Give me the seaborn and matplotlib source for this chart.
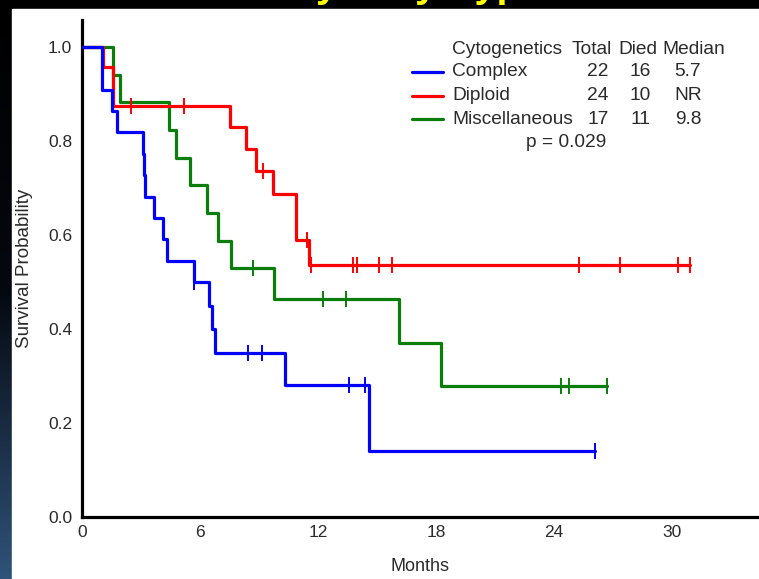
import numpy as np
import pandas as pd
import matplotlib
matplotlib.use("Agg")
import matplotlib.pyplot as plt
from matplotlib.lines import Line2D
from matplotlib.patches import Rectangle
import seaborn as sns

# ---- data: event times in months ----
groups = ["Complex", "Diploid", "Miscellaneous"]
colors = {"Complex": "#0000ff", "Diploid": "#ff0000", "Miscellaneous": "#0a7d0a"}

complex_deaths = [1.0, 1.0, 1.5, 1.8, 3.1, 3.15, 3.2, 3.66, 4.12, 4.32, 5.7,
                  6.46, 6.6, 6.76, 10.3, 14.6]
complex_censored = [5.7, 8.44, 9.15, 13.57, 14.4, 26.1]

diploid_deaths = [1.05, 1.56, 1.56, 7.5, 8.34, 8.86, 9.7, 10.88, 10.88, 11.55]
diploid_censored = [2.5, 5.2, 9.2, 11.45, 11.62, 13.76, 13.97, 13.97, 15.1,
                    15.75, 25.28, 27.35, 30.28, 30.94]

misc_deaths = [1.58, 1.93, 4.42, 4.8, 5.5, 6.34, 6.9, 7.6, 9.76, 16.1, 18.25]
misc_censored = [8.7, 12.23, 13.4, 24.35, 24.76, 26.67]

table_total = ["22", "24", "17"]
table_died = ["16", "10", "11"]
table_median = ["5.7", "NR", "9.8"]
p_value = "p = 0.029"

x_ticks = [0, 6, 12, 18, 24, 30]
y_ticks = [0.0, 0.2, 0.4, 0.6, 0.8, 1.0]

events = {
    "Complex": (complex_deaths, complex_censored),
    "Diploid": (diploid_deaths, diploid_censored),
    "Miscellaneous": (misc_deaths, misc_censored),
}


def kaplan_meier(deaths, censored):
    deaths = np.asarray(deaths, float)
    censored = np.asarray(censored, float)
    at_risk = len(deaths) + len(censored)
    s = 1.0
    t_pts, s_pts = [0.0], [1.0]
    cens_y = {}
    for t in np.unique(np.concatenate([deaths, censored])):
        d = int(np.sum(deaths == t))
        c = int(np.sum(censored == t))
        if d:
            s *= (at_risk - d) / at_risk
            t_pts.append(t)
            s_pts.append(s)
        if c:
            cens_y[t] = s
        at_risk -= d + c
    t_end = max(np.max(deaths), np.max(censored))
    t_pts.append(t_end)
    s_pts.append(s)
    cx = [t for t in censored]
    cy = [cens_y[t] for t in censored]
    return t_pts, s_pts, cx, cy


curve_rows, cens_rows = [], []
for g in groups:
    t, s, cx, cy = kaplan_meier(*events[g])
    curve_rows += [{"Group": g, "Months": a, "Survival": b} for a, b in zip(t, s)]
    cens_rows += [{"Group": g, "Months": a, "Survival": b} for a, b in zip(cx, cy)]
curves = pd.DataFrame(curve_rows)
cens = pd.DataFrame(cens_rows)

# ---- figure ----
W, H = 759, 579
sns.set_theme(style="white")
plt.rcParams["font.family"] = ["Liberation Sans", "DejaVu Sans"]
fig = plt.figure(figsize=(W / 100, H / 100), dpi=100)

# slide background: dark gradient with a white panel
bg = fig.add_axes([0, 0, 1, 1], zorder=-10)
grad = np.linspace(0, 1, 256)[:, None]
cmap = matplotlib.colors.LinearSegmentedColormap.from_list("bg", ["#000000", "#05080f", "#2f5379"])
bg.imshow(grad, aspect="auto", cmap=cmap, extent=[0, 1, 0, 1], origin="upper")
bg.add_patch(Rectangle((12 / W, 0), 1, 1 - 9 / H, transform=bg.transAxes, color="white"))
bg.set_axis_off()

# slide title, mostly above the visible area
fig.text(127 / W, 1 + 3 / H, "Survival by Karyotype", color="#ffff00", fontsize=28.5,
         fontweight="bold", ha="left", va="baseline")

x0, y0, ytop = 82, 517, 20
ax = fig.add_axes([x0 / W, (H - y0) / H, (W - x0) / W, (y0 - ytop) / H])
ax.patch.set_alpha(0)

px_per_month = 118 / 6
px_per_unit = 470
ax.set_xlim(0, (W - x0) / px_per_month)
ax.set_ylim(0, (y0 - ytop) / px_per_unit)

# draw back to front so the blue curve sits on top
for g in reversed(groups):
    sub = curves[curves["Group"] == g]
    sns.lineplot(data=sub, x="Months", y="Survival", color=colors[g], lw=2.3,
                 drawstyle="steps-post", estimator=None, sort=False, ax=ax,
                 legend=False, zorder=3)
    csub = cens[cens["Group"] == g]
    sns.scatterplot(data=csub, x="Months", y="Survival", marker="|", s=120,
                    linewidth=1.4, color=colors[g], ax=ax, legend=False, zorder=4)

for side in ["top", "right"]:
    ax.spines[side].set_visible(False)
for side in ["left", "bottom"]:
    ax.spines[side].set_linewidth(2.3)
    ax.spines[side].set_color("black")

tc = "#2a2a2a"
ax.set_xticks(x_ticks)
ax.set_xticklabels([str(v) for v in x_ticks])
ax.set_yticks(y_ticks)
ax.set_yticklabels([f"{v:.1f}" for v in y_ticks])
ax.tick_params(direction="in", length=3, width=2, color="black", labelsize=12.5,
               labelcolor=tc)
ax.tick_params(axis="x", pad=6)
ax.tick_params(axis="y", pad=7)
ax.set_xlabel("Months", fontsize=13, color=tc, labelpad=13)
ax.set_ylabel("Survival Probability", fontsize=13.5, color=tc, labelpad=11)


def fx(px):
    return px / W


def fy(py):
    return 1 - py / H


fs = 13.8
fig.text(fx(452), fy(49), "Cytogenetics", fontsize=fs, color=tc, va="center", ha="left")
fig.text(fx(592), fy(49), "Total", fontsize=fs, color=tc, va="center", ha="center")
fig.text(fx(638), fy(49), "Died", fontsize=fs, color=tc, va="center", ha="center")
fig.text(fx(694), fy(49), "Median", fontsize=fs, color=tc, va="center", ha="center")
rows_y = [72, 96, 119]
for g, yy, tot, died, med in zip(groups, rows_y, table_total, table_died, table_median):
    fig.add_artist(Line2D([fx(412), fx(443)], [fy(yy), fy(yy)], color=colors[g], lw=2.3,
                          transform=fig.transFigure))
    fig.text(fx(452), fy(yy), g, fontsize=fs, color=tc, va="center", ha="left")
    fig.text(fx(598), fy(yy), tot, fontsize=fs, color=tc, va="center", ha="center")
    fig.text(fx(640), fy(yy), died, fontsize=fs, color=tc, va="center", ha="center")
    fig.text(fx(688), fy(yy), med, fontsize=fs, color=tc, va="center", ha="center")
fig.text(fx(566), fy(142), p_value, fontsize=fs, color=tc, va="center", ha="center")

fig.savefig("out.png", dpi=100)
